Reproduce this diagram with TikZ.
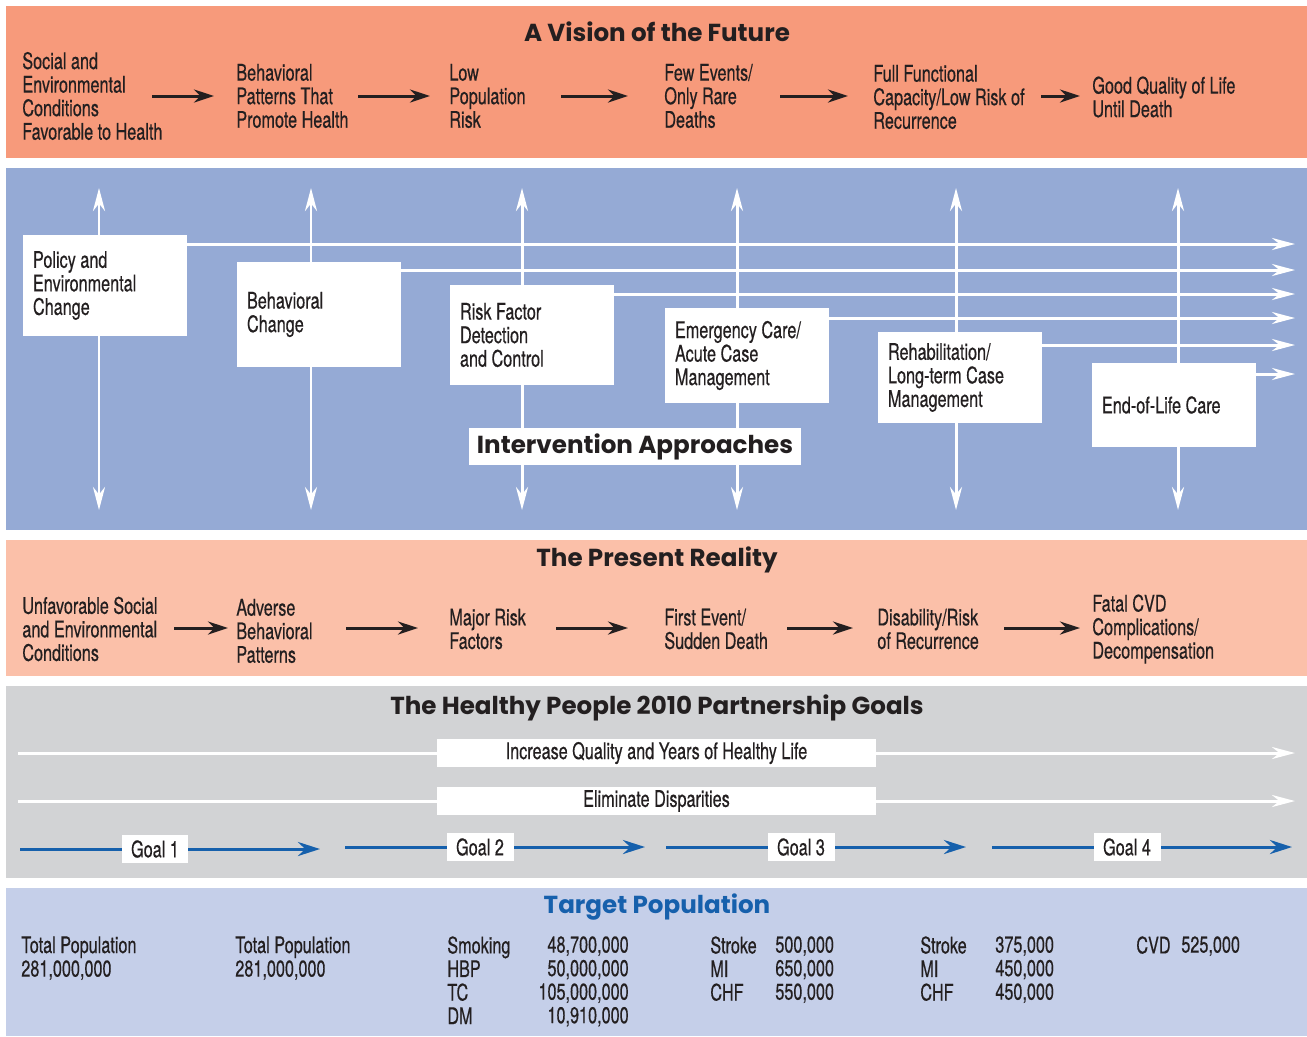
\documentclass[tikz,border=0pt]{standalone}
\usepackage{fontspec}
\setmainfont{TeX Gyre Heros}[FakeStretch=0.71, FakeBold=0.4]
\newfontfamily\headfont{Poppins}
\usetikzlibrary{arrows.meta}

\definecolor{visionbg}{HTML}{F79A7B}
\definecolor{approachbg}{HTML}{95AAD5}
\definecolor{realitybg}{HTML}{FBC0A9}
\definecolor{goalsbg}{HTML}{D2D3D5}
\definecolor{targetbg}{HTML}{C5CFE9}
\definecolor{goalblue}{HTML}{1660AC}
\definecolor{ink}{HTML}{231F20}

\tikzset{
  flow/.style={anchor=west, align=left, inner sep=0pt, text=ink},
  heading/.style={font=\headfont\bfseries\fontsize{14}{16}\selectfont, text=ink},
  ibox/.style={fill=white, text width=2.88cm, inner xsep=0.2cm, inner ysep=0pt, align=flush left, text=ink},
  textbar/.style={fill=white, minimum width=8.78cm, minimum height=0.56cm, inner sep=0pt, text=ink},
  goalbox/.style={fill=white, minimum width=1.34cm, minimum height=0.56cm, inner sep=0pt, text=ink},
  blackarrow/.style={ink, line width=1.7pt, -{Stealth[length=0.4cm,width=0.26cm]}},
  whitearrow/.style={white, line width=1.7pt, -{Stealth[length=0.46cm,width=0.24cm]}},
  bothways/.style={white, line width=1.7pt, {Stealth[length=0.46cm,width=0.24cm]}-{Stealth[length=0.46cm,width=0.24cm]}},
  bluearrow/.style={goalblue, line width=1.7pt, -{Stealth[length=0.44cm,width=0.28cm]}}
}

\begin{document}
\begin{tikzpicture}[x=0.02cm, y=-0.02cm, font=\fontsize{13}{13.4}\selectfont]
    \useasboundingbox (0,0) rectangle (1307,1036);
    % bands
    \fill[visionbg] (6,6) rectangle (1307,158);
    \fill[approachbg] (6,168) rectangle (1307,530);
    \fill[realitybg] (6,540) rectangle (1307,676);
    \fill[goalsbg] (6,686) rectangle (1307,878);
    \fill[targetbg] (6,888) rectangle (1307,1036);

    % vision of the future
    \node[heading] (vision) at (657,32) {A Vision of the Future};
    \node[flow] (v1) at (22,96) {Social and\\Environmental\\Conditions\\Favorable to Health};
    \node[flow] (v2) at (236,96) {Behavioral\\Patterns That\\Promote Health};
    \node[flow] (v3) at (449,96) {Low\\Population\\Risk};
    \node[flow] (v4) at (664,96) {Few Events/\\Only Rare\\Deaths};
    \node[flow] (v5) at (873,97) {Full Functional\\Capacity/Low Risk of\\Recurrence};
    \node[flow] (v6) at (1092,97) {Good Quality of Life\\Until Death};
    \foreach \n/\a/\b in {1/152/214, 2/358/430, 3/561/628, 4/780/848, 5/1041/1080}{
        \coordinate (va\n) at (\a,96);
        \coordinate (vb\n) at (\b,96);
        \draw[blackarrow] (va\n) -- (vb\n);
    }

    % intervention approaches
    \foreach \n/\x in {1/99, 2/311, 3/522, 4/737, 5/956, 6/1178}{
        \coordinate (up\n) at (\x,188);
        \coordinate (dn\n) at (\x,510);
        \draw[bothways] (up\n) -- (dn\n);
    }
    \node[ibox, minimum height=2.02cm] (policy) at (105,285.5) {Policy and\\Environmental\\Change};
    \node[ibox, minimum height=2.1cm] (behav) at (319,314.5) {Behavioral\\Change};
    \node[ibox, minimum height=2.0cm] (riskf) at (532,335) {Risk Factor\\Detection\\and Control};
    \node[ibox, minimum height=1.9cm] (emerg) at (747,355.5) {Emergency Care/\\Acute Case\\Management};
    \node[ibox, minimum height=1.82cm] (rehab) at (960,377.5) {Rehabilitation/\\Long-term Case\\Management};
    \node[ibox, minimum height=1.68cm] (eol) at (1174,405) {End-of-Life Care};
    \foreach \b/\y in {policy/244, behav/270, riskf/294, emerg/318, rehab/345, eol/374}{
        \coordinate (\b-end) at (1295,\y);
        \draw[whitearrow] (\b.east |- \b-end) -- (\b-end);
    }
    \node[heading, fill=white, minimum width=6.64cm, minimum height=0.74cm, inner sep=0pt] (interv) at (635,446.5) {Intervention Approaches};

    % present reality
    \node[heading] (reality) at (657,560) {The Present Reality};
    \node[flow] (r1) at (22,629) {Unfavorable Social\\and Environmental\\Conditions};
    \node[flow] (r2) at (236,631) {Adverse\\Behavioral\\Patterns};
    \node[flow] (r3) at (449,629) {Major Risk\\Factors};
    \node[flow] (r4) at (664,629) {First Event/\\Sudden Death};
    \node[flow] (r5) at (877,629) {Disability/Risk\\of Recurrence};
    \node[flow] (r6) at (1092,629) {Fatal CVD\\Complications/\\Decompensation};
    \foreach \n/\a/\b in {1/174/228, 2/346/418, 3/556/628, 4/787/853, 5/1004/1080}{
        \coordinate (ra\n) at (\a,628);
        \coordinate (rb\n) at (\b,628);
        \draw[blackarrow] (ra\n) -- (rb\n);
    }

    % partnership goals
    \node[heading] (partner) at (657,708) {The Healthy People 2010 Partnership Goals};
    \coordinate (q0) at (18,753);
    \coordinate (q1) at (1295,753);
    \coordinate (d0) at (18,801);
    \coordinate (d1) at (1295,801);
    \draw[whitearrow] (q0) -- node[textbar] (quality) {Increase Quality and Years of Healthy Life} (q1);
    \draw[whitearrow] (d0) -- node[textbar] (dispar) {Eliminate Disparities} (d1);
    \foreach \i/\a/\b/\y in {1/20/320/849, 2/345/645/847, 3/666/966/847, 4/992/1292/847}{
        \coordinate (gs\i) at (\a,\y);
        \coordinate (ge\i) at (\b,\y);
        \draw[bluearrow] (gs\i) -- node[pos=0.45, goalbox] (goal\i) {Goal \i} (ge\i);
    }

    % target population
    \node[heading, text=goalblue] (target) at (657,907) {Target Population};
    \node[flow, anchor=north west] (tp1) at (21,936) {Total Population\\281,000,000};
    \node[flow, anchor=north west] (tp2) at (235,936) {Total Population\\281,000,000};
    \node[flow, anchor=north west] (tp3) at (447,936) {Smoking\\HBP\\TC\\DM};
    \node[flow, anchor=north east, align=right] (tp3n) at (629,936) {48,700,000\\50,000,000\\105,000,000\\10,910,000};
    \node[flow, anchor=north west] (tp4) at (710,936) {Stroke\\MI\\CHF};
    \node[flow, anchor=north west] (tp4n) at (775,936) {500,000\\650,000\\550,000};
    \node[flow, anchor=north west] (tp5) at (920,936) {Stroke\\MI\\CHF};
    \node[flow, anchor=north west] (tp5n) at (995,936) {375,000\\450,000\\450,000};
    \node[flow, anchor=north west] (tp6) at (1136,936) {CVD};
    \node[flow, anchor=north west] (tp6n) at (1181,936) {525,000};
\end{tikzpicture}
\end{document}
